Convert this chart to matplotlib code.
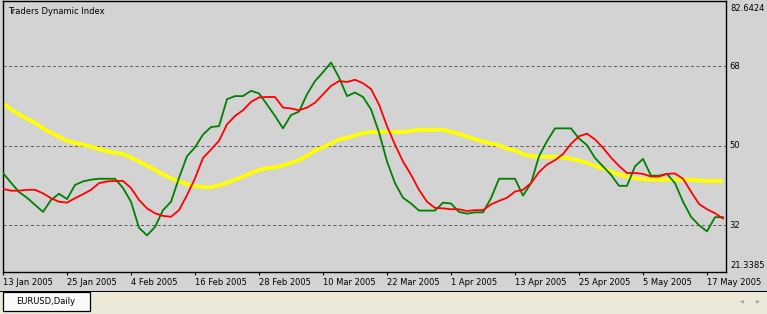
import matplotlib
matplotlib.use("Agg")
import matplotlib.pyplot as plt
from matplotlib.patches import Rectangle
import matplotlib.transforms as mtransforms

# ---- data ----
tick_labels = ["13 Jan 2005", "25 Jan 2005", "4 Feb 2005", "16 Feb 2005", "28 Feb 2005",
               "10 Mar 2005", "22 Mar 2005", "1 Apr 2005", "13 Apr 2005", "25 Apr 2005",
               "5 May 2005", "17 May 2005"]
bars_per_tick = 8

rsi_price_line = [43.8, 41.6, 39.5, 38.2, 36.6, 35.0, 37.7, 39.1, 37.9, 41.1,
                  41.9, 42.3, 42.5, 42.5, 42.5, 40.4, 37.3, 31.4, 29.7, 31.6,
                  35.4, 37.3, 42.7, 47.6, 49.6, 52.5, 54.2, 54.4, 60.5, 61.2,
                  61.2, 62.4, 61.8, 59.3, 56.7, 53.9, 56.9, 57.7, 61.6, 64.6,
                  66.6, 68.8, 65.4, 61.2, 62.0, 61.0, 58.2, 53.0, 46.4, 41.5,
                  38.2, 36.9, 35.3, 35.3, 35.3, 37.1, 36.9, 35.0, 34.6, 34.9,
                  34.9, 38.1, 42.5, 42.5, 42.5, 38.7, 41.5, 47.6, 51.0, 53.9,
                  53.9, 53.9, 51.6, 50.1, 47.2, 45.3, 43.4, 40.9, 40.9, 45.3,
                  47.0, 43.2, 43.2, 43.6, 41.5, 37.3, 33.9, 32.0, 30.6, 33.8,
                  33.8]

trade_signal_line = [40.2, 39.8, 39.8, 40.0, 40.0, 39.2, 38.1, 37.3, 37.1, 38.1,
                     39.0, 40.0, 41.5, 41.9, 42.0, 42.0, 40.4, 37.7, 35.8, 34.7,
                     34.1, 33.9, 35.4, 38.8, 42.6, 47.2, 49.1, 51.1, 54.8, 56.7,
                     58.0, 59.9, 60.9, 61.0, 61.0, 58.6, 58.4, 58.0, 58.6, 59.7,
                     61.6, 63.5, 64.6, 64.4, 64.9, 64.1, 62.8, 59.3, 54.4, 50.2,
                     46.4, 43.4, 40.0, 37.3, 35.9, 35.8, 35.6, 35.6, 35.2, 35.4,
                     35.4, 36.7, 37.5, 38.2, 39.6, 40.0, 41.5, 44.0, 45.7, 46.7,
                     48.1, 50.4, 52.1, 52.7, 51.4, 49.5, 47.3, 45.4, 43.8, 43.8,
                     43.6, 43.0, 43.0, 43.6, 43.7, 42.5, 39.6, 36.8, 35.6, 34.7,
                     33.5]

market_base_line = [59.5, 58.2, 57.1, 56.1, 55.2, 53.9, 52.9, 52.0, 51.1, 50.6,
                    50.2, 49.8, 49.2, 48.7, 48.4, 48.1, 47.3, 46.4, 45.5, 44.5,
                    43.5, 42.6, 41.9, 41.3, 40.9, 40.6, 40.6, 41.0, 41.6, 42.3,
                    43.0, 43.8, 44.5, 44.9, 45.1, 45.5, 46.1, 46.7, 47.7, 48.9,
                    49.6, 50.5, 51.4, 51.8, 52.3, 52.8, 53.1, 53.1, 53.1, 53.1,
                    53.1, 53.3, 53.6, 53.6, 53.6, 53.6, 53.1, 52.7, 52.0, 51.5,
                    50.9, 50.5, 50.1, 49.3, 48.9, 48.1, 47.6, 47.5, 47.5, 47.5,
                    47.3, 47.0, 46.6, 46.1, 45.4, 44.8, 44.1, 43.5, 43.0, 42.6,
                    42.4, 42.3, 42.3, 42.3, 42.3, 42.3, 42.3, 42.1, 42.0, 42.0,
                    42.0]

levels = [68, 50, 32]
y_min, y_max = 21.3385, 82.6424
title = "Traders Dynamic Index"
tab_text = "EURUSD,Daily"

# ---- figure ----
W, H = 767, 314
fig = plt.figure(figsize=(W / 100, H / 100), dpi=100)
bg = "#D3D3D3"
fig.patch.set_facecolor(bg)

ax = fig.add_axes([2.7 / W, (H - 272.3) / H, (726.3 - 2.7) / W, (272.3 - 1.3) / H])
ax.set_facecolor(bg)

x = list(range(len(rsi_price_line)))
for lv in levels:
    ax.axhline(lv, color="#606060", lw=0.72, ls=(0, (3, 2.5)), zorder=1)

ax.plot(x, market_base_line, color="#FFFF00", lw=2.8, solid_capstyle="butt", zorder=2)
ax.plot(x, rsi_price_line, color="#008000", lw=1.3, zorder=3)
ax.plot(x, trade_signal_line, color="#FF0000", lw=1.3, zorder=4)

ax.set_xlim(-0.04, (726.3 - 3) / 8)
ax.set_ylim(y_min, y_max)

for s in ax.spines.values():
    s.set_color("black")
    s.set_linewidth(1.0)

ticks = [i * bars_per_tick for i in range(len(tick_labels))]
ax.set_xticks(ticks)
ax.set_xticklabels(tick_labels)
ax.tick_params(axis="x", direction="out", length=2.5, width=0.8, pad=1.8,
               labelsize=6, colors="black")
for lab in ax.get_xticklabels():
    lab.set_horizontalalignment("left")
ax.set_yticks([])

# right-side value labels
btr = mtransforms.blended_transform_factory(ax.transAxes, ax.transData)
xl = 1.0 + 3.0 / (726.3 - 2.7)
for lv in levels:
    ax.text(xl, lv, str(lv), transform=btr, fontsize=6, va="center", ha="left", color="black")
fig.text(730 / W, (H - 8.3) / H, f"{y_max:.4f}", fontsize=6, va="center", ha="left", color="black")
fig.text(730 / W, (H - 265.7) / H, f"{y_min:.4f}", fontsize=6, va="center", ha="left", color="black")

# indicator name
fig.text(8 / W, (H - 12) / H, title, fontsize=6, va="center", ha="left", color="black")

# bottom tab bar
fig.patches.append(Rectangle((0, 0), 1, (H - 291.5) / H, transform=fig.transFigure,
                             facecolor="#ECE9D8", edgecolor="none", zorder=0))
fig.patches.append(Rectangle((0, (H - 292) / H), 1, 1.2 / H, transform=fig.transFigure,
                             facecolor="black", edgecolor="none", zorder=1))
fig.patches.append(Rectangle((3 / W, (H - 311) / H), 87 / W, 19 / H, transform=fig.transFigure,
                             facecolor="#FAFAFA", edgecolor="black", lw=0.9, zorder=2))
fig.text(45.5 / W, (H - 301) / H, tab_text, fontsize=6, va="center", ha="center", color="black")
fig.text(742 / W, (H - 301) / H, "\u25c0", fontsize=3.5, va="center", ha="center", color="#A0A0A0")
fig.text(758 / W, (H - 301) / H, "\u25b6", fontsize=3.5, va="center", ha="center", color="#A0A0A0")

fig.savefig("out.png", dpi=100, facecolor=fig.get_facecolor())
